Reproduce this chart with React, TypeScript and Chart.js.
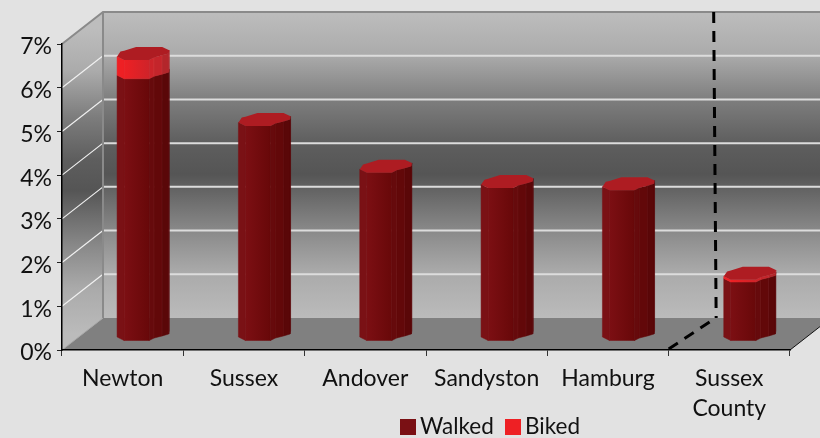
import React, { useEffect, useRef } from "react";
import { Chart, registerables } from "chart.js";

Chart.register(...registerables);

const categories: (string | string[])[] = ["Newton", "Sussex", "Andover", "Sandyston", "Hamburg", ["Sussex", "County"]];
const walked = [6.0, 4.92, 3.85, 3.5, 3.45, 1.35];
const biked = [0.43, 0, 0, 0, 0, 0.05];
const yTicks = [0, 1, 2, 3, 4, 5, 6, 7];
const seriesNames = ["Walked", "Biked"];
const seriesColors = ["#7a1014", "#ee2024"];

const FONT = 'Lato, sans-serif';
const FONT_SIZE = 23;
const PAGE = "#e2e2e2";
const DEPTH_X = 41;
const DEPTH_Y = 32;
const BAR_DX = 20.5;
const BAR_DY = -15.5;
const FLOOR_COLOR = "#808080";

const wallStops: [number, string][] = [
  [0, "#bdbdbd"],
  [0.14, "#ababab"],
  [0.29, "#7d7d7d"],
  [0.43, "#5e5e5e"],
  [0.53, "#555555"],
  [0.71, "#888888"],
  [0.85, "#aaaaaa"],
  [1, "#bbbbbb"],
];

// front half of the octagonal section, unit = half bar width / half cap height
const frontProfile: [number, number][] = [
  [-1, 0.46],
  [-0.73, 1],
  [0.23, 1],
  [0.42, 0.62],
  [0.73, 0.3],
  [0.98, 0],
  [1, -0.5],
];
const backProfile: [number, number][] = [
  [0.73, -1],
  [-0.27, -1],
  [-0.73, -0.42],
  [-0.87, -0.28],
];

function wallGradient(ctx: CanvasRenderingContext2D, top: number, bottom: number) {
  const g = ctx.createLinearGradient(0, top, 0, bottom);
  wallStops.forEach(([o, c]) => g.addColorStop(o, c));
  return g;
}

function drawPrism(
  ctx: CanvasRenderingContext2D,
  cx: number,
  yTop: number,
  yBase: number,
  halfW: number,
  halfH: number,
  faces: string[],
  mainFrom: string,
  mainTo: string,
  edge: string
) {
  const pt = (p: [number, number], y: number): [number, number] => [cx + p[0] * halfW, y + p[1] * halfH];
  for (let i = 0; i < frontProfile.length - 1; i++) {
    const a = frontProfile[i];
    const b = frontProfile[i + 1];
    const [ax, ay0] = pt(a, yBase);
    const [bx, by0] = pt(b, yBase);
    const [, ay1] = pt(a, yTop);
    const [, by1] = pt(b, yTop);
    ctx.beginPath();
    ctx.moveTo(ax, ay0);
    ctx.lineTo(bx, by0);
    ctx.lineTo(bx, by1);
    ctx.lineTo(ax, ay1);
    ctx.closePath();
    if (i === 1) {
      const g = ctx.createLinearGradient(ax, 0, bx, 0);
      g.addColorStop(0, mainFrom);
      g.addColorStop(1, mainTo);
      ctx.fillStyle = g;
    } else {
      ctx.fillStyle = faces[i];
    }
    ctx.fill();
    ctx.strokeStyle = ctx.fillStyle as string;
    ctx.lineWidth = 0.5;
    ctx.stroke();
    if (i >= 2 && i < 4) {
      ctx.beginPath();
      ctx.moveTo(bx, by0);
      ctx.lineTo(bx, by1);
      ctx.strokeStyle = edge;
      ctx.lineWidth = 0.8;
      ctx.stroke();
    }
  }
}

function drawCap(ctx: CanvasRenderingContext2D, cx: number, y: number, halfW: number, halfH: number, color: string) {
  const pts = [...frontProfile, ...backProfile];
  ctx.beginPath();
  pts.forEach((p, i) => {
    const px = cx + p[0] * halfW;
    const py = y + p[1] * halfH;
    if (i === 0) ctx.moveTo(px, py);
    else ctx.lineTo(px, py);
  });
  ctx.closePath();
  ctx.fillStyle = color;
  ctx.fill();
}

const scene3d = {
  id: "scene3d",
  beforeDraw(chart: any) {
    const { ctx, width, height, scales } = chart;
    const x = scales.x;
    const y = scales.y;
    const left = x.left;
    const right = x.right;
    const bottom = y.bottom;
    const top = y.top;
    ctx.save();
    ctx.fillStyle = PAGE;
    ctx.fillRect(0, 0, width, height);

    // back wall
    ctx.fillStyle = wallGradient(ctx, top - DEPTH_Y, bottom - DEPTH_Y);
    ctx.fillRect(left + DEPTH_X, top - DEPTH_Y, right - left, bottom - top);

    // left wall
    ctx.beginPath();
    ctx.moveTo(left, top);
    ctx.lineTo(left + DEPTH_X, top - DEPTH_Y);
    ctx.lineTo(left + DEPTH_X, bottom - DEPTH_Y);
    ctx.lineTo(left, bottom);
    ctx.closePath();
    ctx.fillStyle = wallGradient(ctx, top - DEPTH_Y / 2, bottom - DEPTH_Y / 2);
    ctx.fill();

    // floor
    ctx.beginPath();
    ctx.moveTo(left, bottom);
    ctx.lineTo(left + DEPTH_X, bottom - DEPTH_Y);
    ctx.lineTo(right + DEPTH_X, bottom - DEPTH_Y);
    ctx.lineTo(right, bottom);
    ctx.closePath();
    ctx.fillStyle = FLOOR_COLOR;
    ctx.fill();

    // grid lines
    yTicks.forEach((t) => {
      if (t === 0 || t === 7) return;
      const py = y.getPixelForValue(t);
      ctx.beginPath();
      ctx.moveTo(left, py);
      ctx.lineTo(left + DEPTH_X, py - DEPTH_Y);
      ctx.strokeStyle = "#f0f0f0";
      ctx.lineWidth = 1.2;
      ctx.stroke();
      ctx.beginPath();
      ctx.moveTo(left + DEPTH_X, py - DEPTH_Y);
      ctx.lineTo(right + DEPTH_X, py - DEPTH_Y);
      ctx.strokeStyle = "#dcdcdc";
      ctx.lineWidth = 2;
      ctx.stroke();
    });

    // wall frame
    ctx.strokeStyle = "#8a8a8a";
    ctx.lineWidth = 2;
    ctx.beginPath();
    ctx.moveTo(left, top);
    ctx.lineTo(left + DEPTH_X, top - DEPTH_Y);
    ctx.lineTo(right + DEPTH_X, top - DEPTH_Y);
    ctx.moveTo(left + DEPTH_X, top - DEPTH_Y);
    ctx.lineTo(left + DEPTH_X, bottom - DEPTH_Y);
    ctx.stroke();

    ctx.strokeStyle = "#a8a8a8";
    ctx.lineWidth = 1;
    ctx.beginPath();
    ctx.moveTo(left, bottom);
    ctx.lineTo(left + DEPTH_X, bottom - DEPTH_Y);
    ctx.stroke();

    ctx.strokeStyle = "#111111";
    ctx.lineWidth = 1;
    ctx.beginPath();
    ctx.moveTo(right, bottom);
    ctx.lineTo(right + DEPTH_X, bottom - DEPTH_Y);
    ctx.stroke();

    // dashed divider before the county bar
    const step = (x.getPixelForValue(5) - x.getPixelForValue(4)) / 2;
    const divX = x.getPixelForValue(4) + step;
    ctx.strokeStyle = "#000000";
    ctx.lineWidth = 3;
    ctx.setLineDash([11, 8]);
    ctx.beginPath();
    ctx.moveTo(divX + 45, top - DEPTH_Y);
    ctx.lineTo(divX + 47.5, bottom - DEPTH_Y);
    ctx.stroke();
    ctx.beginPath();
    ctx.moveTo(divX, bottom - 1);
    ctx.lineTo(divX + 47, bottom - DEPTH_Y);
    ctx.stroke();
    ctx.restore();
  },
  beforeDatasetDraw() {
    return false;
  },
  afterDraw(chart: any) {
    const { ctx } = chart;
    const metaW = chart.getDatasetMeta(0).data;
    const metaB = chart.getDatasetMeta(1).data;
    ctx.save();
    metaW.forEach((el: any, i: number) => {
      const cx = el.x + BAR_DX;
      const halfW = el.width / 2;
      const halfH = 6.5;
      drawPrism(ctx, cx, el.y + BAR_DY, el.base + BAR_DY, halfW, halfH,
        ["#7a1115", "", "#660a0c", "#620809", "#5a0708", "#5a0708"],
        "#7c0f13", "#680809", "#7d2a2c");
      const topEl = biked[i] > 0 ? metaB[i] : el;
      if (biked[i] > 0) {
        drawPrism(ctx, cx, topEl.y + BAR_DY, topEl.base + BAR_DY, halfW, halfH,
          ["#ee2024", "", "#cc242a", "#c4252b", "#b3262b", "#b3262b"],
          "#ee2024", "#cf2329", "#d9474b");
      }
      drawCap(ctx, cx, topEl.y + BAR_DY, halfW, halfH, "#ae1c22");
    });

    // legend
    ctx.font = `22.5px ${FONT}`;
    ctx.textBaseline = "middle";
    ctx.textAlign = "left";
    const legendX = [400, 505];
    seriesNames.forEach((name, i) => {
      ctx.fillStyle = seriesColors[i];
      ctx.fillRect(legendX[i], 419, 16, 16);
      ctx.fillStyle = "#111111";
      ctx.fillText(name, legendX[i] + 20, 427);
    });
    ctx.restore();
  },
};

export default function App() {
  const ref = useRef<HTMLCanvasElement>(null);
  useEffect(() => {
    if (!ref.current) return;
    const chart = new Chart(ref.current, {
      type: "bar",
      data: {
        labels: categories as any,
        datasets: [
          { label: seriesNames[0], data: walked, backgroundColor: seriesColors[0], barPercentage: 0.43, categoryPercentage: 1 },
          { label: seriesNames[1], data: biked, backgroundColor: seriesColors[1], barPercentage: 0.43, categoryPercentage: 1 },
        ],
      },
      options: {
        responsive: false,
        animation: false,
        layout: { padding: { top: 44, right: 30, left: 0, bottom: 0 } },
        plugins: { legend: { display: false }, tooltip: { enabled: false } },
        scales: {
          x: {
            stacked: true,
            afterFit: (s: any) => { s.height = 88; },
            border: { color: "#000000", width: 1.5 },
            grid: { drawOnChartArea: false, tickLength: 6, color: "#333333", offset: true },
            ticks: {
              maxRotation: 0,
              autoSkip: false,
              padding: 8,
              color: "#111111",
              font: { family: FONT, size: FONT_SIZE, lineHeight: 1.3 },
            },
          },
          y: {
            stacked: true,
            min: 0,
            max: 7,
            afterFit: (s: any) => { s.width = 62; },
            border: { color: "#000000", width: 1.5 },
            grid: { drawOnChartArea: false, tickLength: 5, color: "#222222" },
            ticks: {
              stepSize: 1,
              padding: 5,
              labelOffset: 3,
              color: "#111111",
              font: { family: FONT, size: FONT_SIZE },
              callback: (v: any) => `${v}%`,
            },
          },
        },
      },
      plugins: [scene3d as any],
    });
    return () => chart.destroy();
  }, []);
  return (
    <div style={{ position: "fixed", left: 0, top: 0, width: 820, height: 438 }}>
      <canvas ref={ref} width={820} height={438} style={{ display: "block" }} />
    </div>
  );
}
